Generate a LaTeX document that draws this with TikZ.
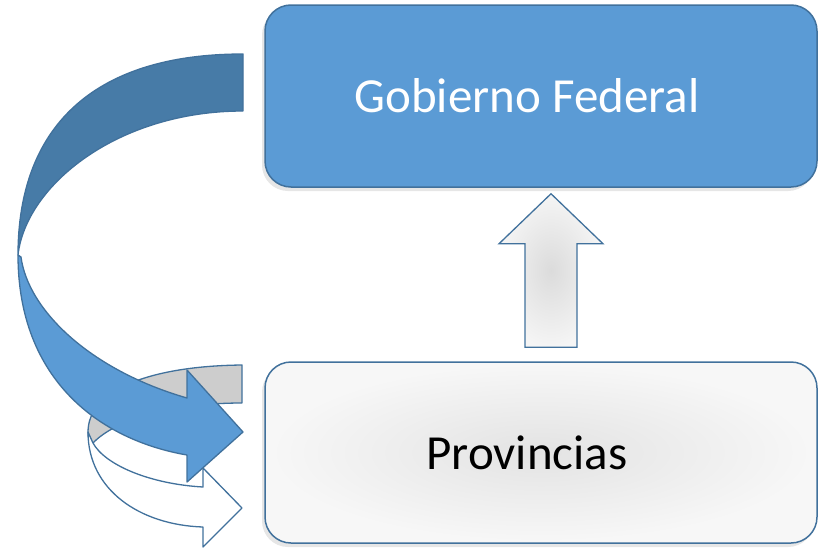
\documentclass[tikz,border=0pt]{standalone}
\usepackage{fontspec}
\setmainfont{Carlito}
\usetikzlibrary{positioning,calc,shadows}

\definecolor{boxblue}{HTML}{5B9BD5}
\definecolor{edgeblue}{HTML}{41719C}
\definecolor{backblue}{HTML}{477BA7}
\definecolor{backgray}{HTML}{CDCDCD}

\begin{document}
\begin{tikzpicture}[x=1pt,y=-1pt,
  levelbox/.style={draw=edgeblue, line width=1.5pt, rounded corners=26pt,
    minimum width=552pt, minimum height=182pt, inner sep=0pt,
    font=\fontsize{49}{58}\selectfont,
    drop shadow={shadow xshift=-3pt, shadow yshift=-4pt, opacity=0.2}},
  ribbon/.style={draw=edgeblue, line width=1.3pt, line join=round},
  uparrow/.style={draw=edgeblue, line width=1.3pt, line join=miter,
    inner color=gray!28, outer color=gray!8}]

\useasboundingbox (0,0) rectangle (818,549);

% Small curved arrow (back and front)
\fill[ribbon, fill=backgray] (242,365) .. controls (150,366) and (88,390) .. (88,432)
  .. controls (88,437) and (90,440) .. (93,443)
  .. controls (115,420) and (170,403) .. (242,403) -- cycle;
\fill[ribbon, fill=white] (88,432) .. controls (88,490) and (140,525) .. (203,527)
  -- (203,547) -- (242,508) -- (203,468) -- (203,487)
  .. controls (150,484) and (105,465) .. (93,443) -- cycle;

% Big curved arrow (back and front)
\fill[ribbon, fill=backblue] (243,54) .. controls (90,54) and (18,130) .. (18,255)
  .. controls (26,185) and (118,111) .. (243,111) -- cycle;
\fill[ribbon, fill=boxblue] (18,255) .. controls (18,380) and (100,440) .. (187,455)
  -- (187,482) -- (243,432) -- (187,370) -- (187,398)
  .. controls (90,370) and (28,310) .. (21,257) -- cycle;

% Levels
\node[levelbox, fill=boxblue, text=white] (gob) at (541,96)
  {\hspace*{-28pt}Gobierno Federal};
\node[levelbox, inner color=gray!22, outer color=gray!6, minimum height=181pt]
  (prov) at (541,452.5) {\hspace*{-28pt}Provincias};

% Upward arrow
\coordinate (upfoot) at ([xshift=10pt, yshift=14pt]prov.north);
\coordinate (uptip) at ([xshift=10pt, yshift=-6pt]gob.south);
\draw[uparrow] ($(upfoot)+(-26,0)$) -- ($(uptip)+(-26,50)$) -- ($(uptip)+(-52,50)$)
  -- (uptip) -- ($(uptip)+(52,50)$) -- ($(uptip)+(26,50)$)
  -- ($(upfoot)+(26,0)$) -- cycle;

\end{tikzpicture}
\end{document}
